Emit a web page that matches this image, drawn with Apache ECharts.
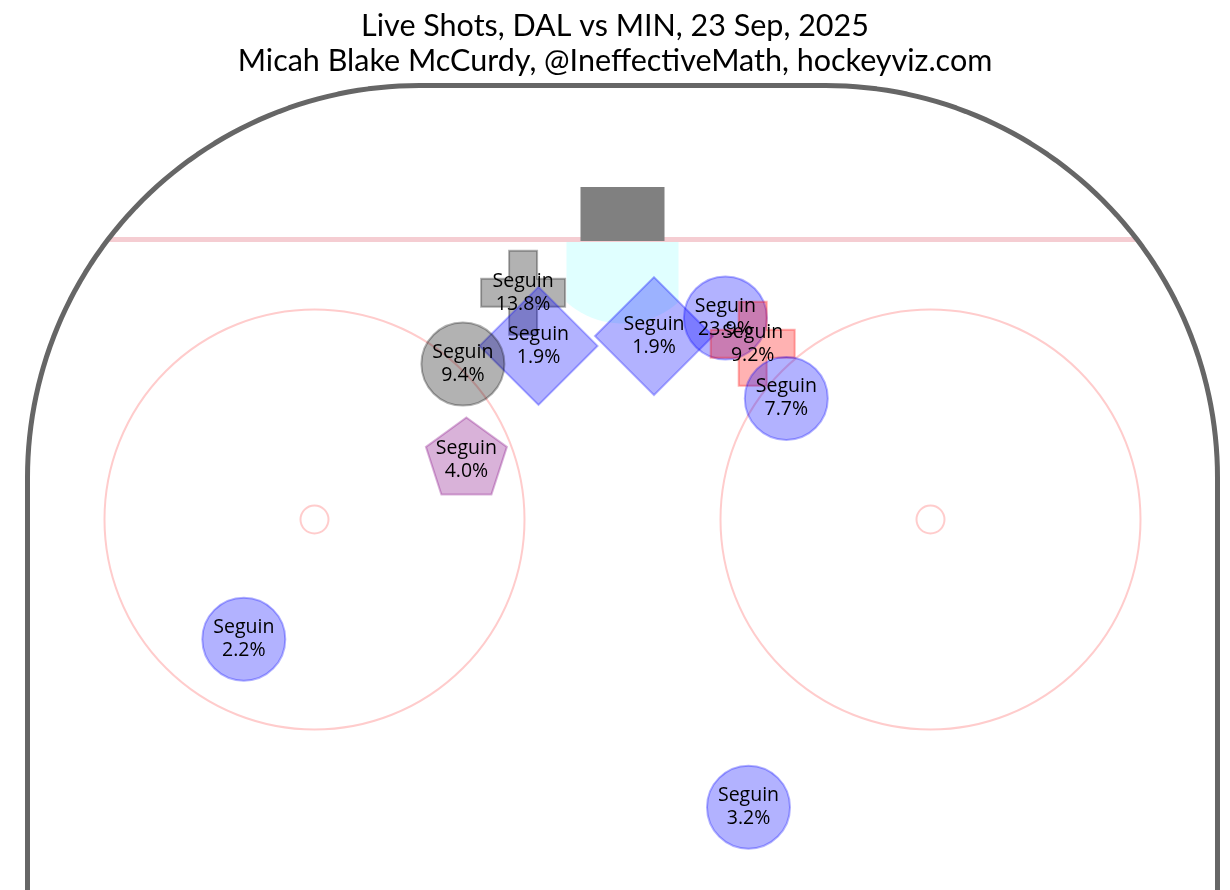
<!DOCTYPE html>
<html>
<head>
<meta charset="utf-8">
<script src="https://cdn.jsdelivr.net/npm/echarts@6/dist/echarts.min.js"></script>
<style>
html,body{margin:0;padding:0;background:#fff;}
#chart{width:1230px;height:890px;}
</style>
</head>
<body>
<div id="chart"></div>
<script>
// ---- data (feet: x = lateral from rink centre, y = distance from end boards) ----
const shooters   = ['Seguin','Seguin','Seguin','Seguin','Seguin','Seguin','Seguin','Seguin','Seguin','Seguin'];
const shotX      = [-7.1, -6.0, -11.4, 2.25, 7.35, 9.3, 11.7, -11.15, -27.05, 9.0];
const shotY      = [14.8, 18.6, 19.9, 17.9, 16.6, 18.45, 22.35, 26.75, 39.55, 51.55];
const xgPct      = [13.8, 1.9, 9.4, 1.9, 23.9, 9.2, 7.7, 4.0, 2.2, 3.2];
const shotShape  = ['plus','diamond','circle','diamond','circle','plus','circle','pentagon','circle','circle'];
const shotGroup  = ['gray','blue','gray','blue','blue','red','blue','purple','blue','blue'];

const titleLines = ['Live Shots, DAL vs MIN, 23 Sep, 2025', 'Micah Blake McCurdy, @IneffectiveMath, hockeyviz.com'];

// ---- rink dimensions (feet) ----
const RINK_HALF_W = 42.5, CORNER_R = 28, GOAL_LINE = 11;
const CIRCLE_OFF_X = 22, CIRCLE_OFF_Y = 20, CIRCLE_R = 15, DOT_R = 1;
const NET_HALF_W = 3, NET_DEPTH = 3.75, CREASE_HALF_W = 4, CREASE_R = 6;

// ---- layout ----
const PX = 14, OX = 622.5, OY = 85.5, W = 1230, H = 890;
const TITLE_FONT = 'Lato', LABEL_FONT = 'Open Sans';

const colors = {
  blue:   {fill:'rgba(0,0,255,0.3)',   edge:'rgba(0,0,255,0.3)'},
  gray:   {fill:'rgba(0,0,0,0.3)',     edge:'rgba(0,0,0,0.3)'},
  red:    {fill:'rgba(255,0,0,0.3)',   edge:'rgba(255,0,0,0.3)'},
  purple: {fill:'rgba(128,0,128,0.3)', edge:'rgba(128,0,128,0.3)'}
};
const shapes = {
  circle:   {symbol:'circle', size:83, offset:[0,0]},
  diamond:  {symbol:'diamond', size:118, offset:[0,0]},
  plus:     {symbol:'path://M1,0H2V1H3V2H2V3H1V2H0V1H1Z', size:84, offset:[0,0]},
  pentagon: {symbol:'path://M95.1,0L190.2,69.1L153.9,180.9L36.3,180.9L0,69.1Z', size:[81,77], offset:[0,-4]}
};

const shotData = shotX.map((x,i) => {
  const sh = shapes[shotShape[i]], c = colors[shotGroup[i]];
  return {
    name: shooters[i],
    value: [x, shotY[i], xgPct[i]],
    symbol: sh.symbol, symbolSize: sh.size, symbolOffset: sh.offset,
    itemStyle: {color: c.fill, borderColor: c.edge, borderWidth: 2, opacity: 1}
  };
});
const labelData = shotX.map((x,i) => [x, shotY[i], xgPct[i], i]);

function labelRender(params, api) {
  const p = api.coord([api.value(0), api.value(1)]);
  const i = api.value(3);
  return {
    type:'text', z2: 100,
    x: p[0], y: p[1],
    style: {
      text: shooters[i] + '\n' + api.value(2).toFixed(1) + '%',
      fill:'#000', font: '19.5px "' + LABEL_FONT + '"', lineHeight: 23,
      align:'center', verticalAlign:'middle'
    }
  };
}

function rinkRender(params, api) {
  const P = (x,y) => api.coord([x,y]);
  const children = [];
  const bottom = 70;
  // crease
  const crease = [P(-CREASE_HALF_W, GOAL_LINE)];
  for (let k=0;k<=40;k++){
    const x = -CREASE_HALF_W + 2*CREASE_HALF_W*k/40;
    crease.push(P(x, GOAL_LINE + Math.sqrt(CREASE_R*CREASE_R - x*x)));
  }
  crease.push(P(CREASE_HALF_W, GOAL_LINE));
  children.push({type:'polygon', shape:{points:crease}, style:{fill:'#e0ffff', stroke:null}});
  // goal line
  const gx = (RINK_HALF_W-CORNER_R) + Math.sqrt(CORNER_R*CORNER_R - (CORNER_R-GOAL_LINE)*(CORNER_R-GOAL_LINE));
  const g1 = P(-gx, GOAL_LINE), g2 = P(gx, GOAL_LINE);
  children.push({type:'line', shape:{x1:g1[0],y1:g1[1],x2:g2[0],y2:g2[1]}, style:{stroke:'#f5cdd2', lineWidth:5}});
  // net
  const n1 = P(-NET_HALF_W, GOAL_LINE-NET_DEPTH), n2 = P(NET_HALF_W, GOAL_LINE+0.1);
  children.push({type:'rect', shape:{x:n1[0], y:n1[1], width:n2[0]-n1[0], height:n2[1]-n1[1]}, style:{fill:'#808080'}});
  // faceoff circles
  [-1,1].forEach(sx => {
    const c = P(sx*CIRCLE_OFF_X, GOAL_LINE+CIRCLE_OFF_Y);
    const r = api.size([CIRCLE_R,0])[0];
    const rd = api.size([DOT_R,0])[0];
    children.push({type:'circle', shape:{cx:c[0],cy:c[1],r:r}, style:{fill:null, stroke:'#ffcccc', lineWidth:2}});
    children.push({type:'circle', shape:{cx:c[0],cy:c[1],r:rd}, style:{fill:null, stroke:'#ffcccc', lineWidth:2}});
  });
  // boards
  const pts = [P(-RINK_HALF_W, bottom)];
  const cxL = -(RINK_HALF_W-CORNER_R), cxR = RINK_HALF_W-CORNER_R;
  for (let k=0;k<=60;k++){
    const t = Math.PI + 0.5*Math.PI*k/60;
    pts.push(P(cxL + CORNER_R*Math.cos(t), CORNER_R + CORNER_R*Math.sin(t)));
  }
  for (let k=0;k<=60;k++){
    const t = 1.5*Math.PI + 0.5*Math.PI*k/60;
    pts.push(P(cxR + CORNER_R*Math.cos(t), CORNER_R + CORNER_R*Math.sin(t)));
  }
  pts.push(P(RINK_HALF_W, bottom));
  children.push({type:'polyline', shape:{points:pts}, style:{fill:null, stroke:'#666666', lineWidth:5, lineJoin:'round'}});
  return {type:'group', children};
}

const chart = echarts.init(document.getElementById('chart'), null, {renderer:'canvas'});
chart.setOption({
  animation: false,
  backgroundColor: '#ffffff',
  title: {
    text: titleLines.join('\n'),
    left: 'center', top: 3,
    textStyle: {fontFamily: TITLE_FONT, fontSize: 30.5, fontWeight: 'normal', color: '#000', lineHeight: 35.5}
  },
  grid: {left:0, right:0, top:0, bottom:0, containLabel:false},
  xAxis: {type:'value', min: -OX/PX, max: (W-OX)/PX, show:false},
  yAxis: {type:'value', min: -OY/PX, max: (H-OY)/PX, inverse:true, show:false},
  series: [
    {type:'custom', coordinateSystem:'cartesian2d', renderItem: rinkRender, data:[[0,0]], silent:true, clip:false, z:1},
    {type:'scatter', data: shotData, z:3, silent:true, label:{show:false}, itemStyle:{opacity:1}},
    {type:'custom', coordinateSystem:'cartesian2d', renderItem: labelRender, data: labelData, silent:true, clip:false, z:10}
  ]
});
</script>
</body>
</html>
